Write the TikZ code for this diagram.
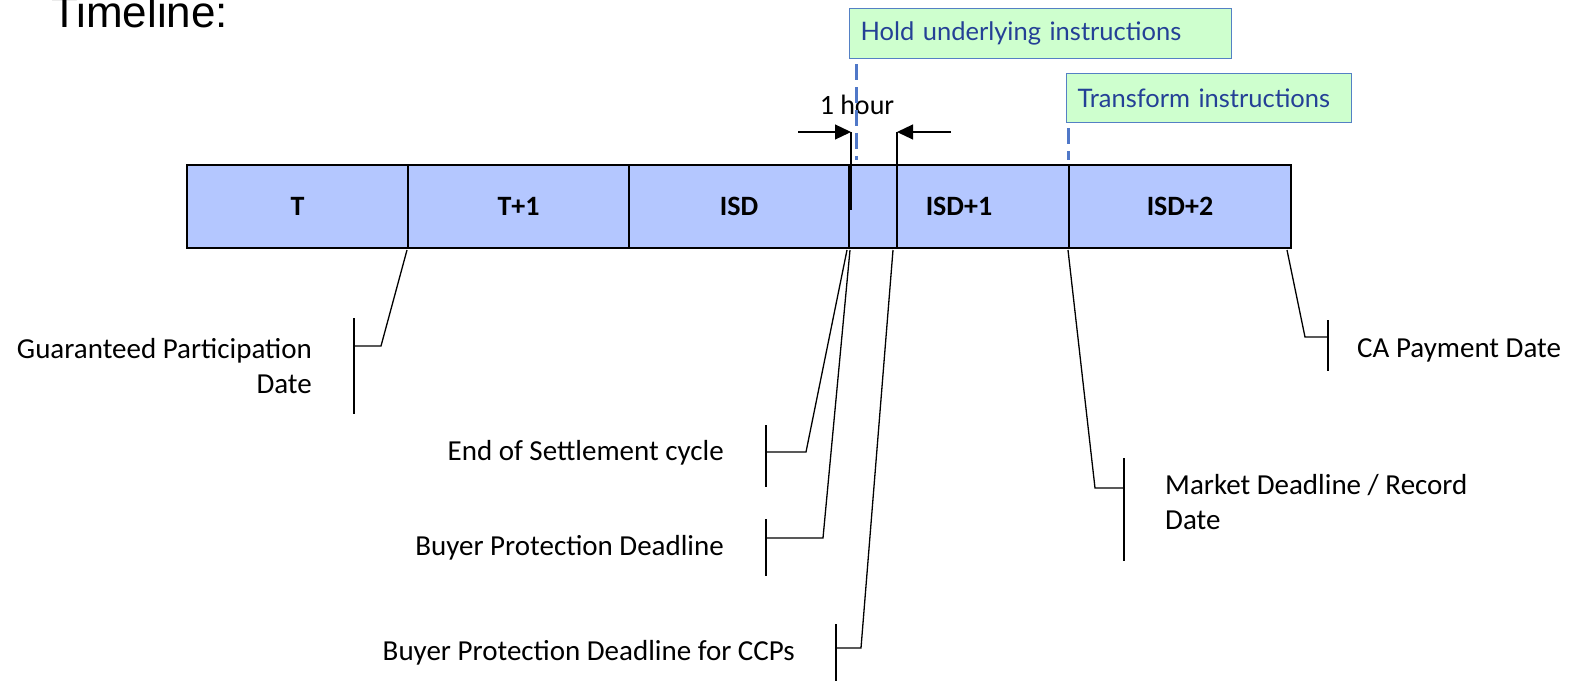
\documentclass[tikz,border=0pt]{standalone}
\usepackage{fontspec}
\setmainfont{Carlito}
\newfontfamily\arialfont{Liberation Sans}
\newfontfamily\boxfont{Lato}
\usetikzlibrary{arrows.meta, positioning}

\definecolor{barblue}{RGB}{180,199,255}
\definecolor{boxgreen}{RGB}{206,255,206}
\definecolor{boxedge}{RGB}{84,128,196}
\definecolor{boxtext}{RGB}{36,64,150}
\definecolor{dashblue}{RGB}{80,120,200}

\tikzset{
    seg/.style={draw, fill=barblue, line width=1.4pt, outer sep=0pt, inner sep=0pt,
        minimum width=221pt, minimum height=83pt, font=\bfseries\fontsize{28}{32}\selectfont},
    notebox/.style={draw=boxedge, fill=boxgreen, line width=1pt, anchor=north west,
        inner xsep=11pt, inner ysep=0pt, align=left, text=boxtext,
        font=\boxfont\fontsize{25.5}{30}\selectfont},
    datebar/.style={fill=black, inner sep=0pt, minimum width=2.6pt},
    leader/.style={line width=1.3pt},
    lbl/.style={inner sep=0pt, font=\fontsize{29}{35}\selectfont},
    hourarrow/.style={line width=1.2pt, -{Triangle[length=16pt, width=15pt]}},
    guide/.style={dashblue, line width=3pt, dash pattern=on 16pt off 7pt},
}

\begin{document}
\begin{tikzpicture}[x=1pt, y=-1pt]
    \useasboundingbox (0,0) rectangle (1585,683);

    \node[anchor=base west, inner sep=0pt, font=\arialfont\fontsize{44}{50}\selectfont] (title) at (51,27) {Timeline:};

    \node[seg, anchor=north west] (t) at (187,165) {T};
    \node[seg, right=0pt of t] (t1) {T+1};
    \node[seg, right=0pt of t1, minimum width=220pt] (isd) {ISD};
    \node[seg, right=0pt of isd, minimum width=220pt] (isd1) {ISD+1};
    \node[seg, right=0pt of isd1, minimum width=222pt] (isd2) {ISD+2};

    \node[notebox, minimum width=382pt, minimum height=50pt, text width=360pt] (hold) at (849,8) {Hold underlying instructions};
    \node[notebox, minimum width=285pt, minimum height=49pt, text width=263pt] (transform) at (1066,73) {Transform instructions};

    \node[lbl, font=\fontsize{28}{34}\selectfont] (hour) at (857,105) {1 hour};

    \coordinate (holdfoot) at (856,160);
    \coordinate (transfoot) at (1068,160);
    \draw[guide] (holdfoot |- hold.south) ++(0,5) -- (holdfoot);
    \draw[guide] (transfoot |- transform.south) ++(0,5) -- (transfoot);

    \coordinate (hl) at (851,132);
    \coordinate (hlb) at (851,210);
    \coordinate (hr) at (897,132);
    \coordinate (hrb) at (897,248);
    \coordinate (la) at (798,132);
    \coordinate (ra) at (951,132);
    \draw[line width=1.4pt] (hl) -- (hlb);
    \draw[line width=1.4pt] (hr) -- (hrb);
    \draw[hourarrow] (la) -- (hl);
    \draw[hourarrow] (ra) -- (hr);

    \node[datebar, minimum height=96pt] (gpdbar) at (354,366) {};
    \node[lbl, anchor=east, align=right] (gpd) at (312,366) {Guaranteed Participation\\Date};
    \coordinate (gpdtop) at (407,250);
    \coordinate (gpdknee) at (381,346);
    \draw[leader] (gpdtop) -- (gpdknee) -- (gpdknee -| gpdbar);

    \node[datebar, minimum height=62pt] (eosbar) at (766,456) {};
    \node[lbl, anchor=east] (eos) at (724,453) {End of Settlement cycle};
    \coordinate (eostop) at (847,250);
    \coordinate (eosknee) at (806,452);
    \draw[leader] (eostop) -- (eosknee) -- (eosknee -| eosbar);

    \node[datebar, minimum height=57pt] (bpdbar) at (766,547) {};
    \node[lbl, anchor=east] (bpd) at (724,548) {Buyer Protection Deadline};
    \coordinate (bpdtop) at (850,250);
    \coordinate (bpdknee) at (823,538);
    \draw[leader] (bpdtop) -- (bpdknee) -- (bpdknee -| bpdbar);

    \node[datebar, minimum height=57pt] (ccpbar) at (836,652) {};
    \node[lbl, anchor=east] (ccp) at (795,653) {Buyer Protection Deadline for CCPs};
    \coordinate (ccptop) at (893,250);
    \coordinate (ccpknee) at (861,648);
    \draw[leader] (ccptop) -- (ccpknee) -- (ccpknee -| ccpbar);

    \node[datebar, minimum height=103pt] (mktbar) at (1124,509) {};
    \node[lbl, anchor=west, align=left] (mkt) at (1165,502) {Market Deadline / Record\\Date};
    \coordinate (mkttop) at (1068,250);
    \coordinate (mktknee) at (1095,488);
    \draw[leader] (mkttop) -- (mktknee) -- (mktknee -| mktbar);

    \node[datebar, minimum height=51pt] (capbar) at (1328,345) {};
    \node[lbl, anchor=west] (cap) at (1357,350) {CA Payment Date};
    \coordinate (captop) at (1287,250);
    \coordinate (capknee) at (1305,337);
    \draw[leader] (captop) -- (capknee) -- (capknee -| capbar);
\end{tikzpicture}
\end{document}
